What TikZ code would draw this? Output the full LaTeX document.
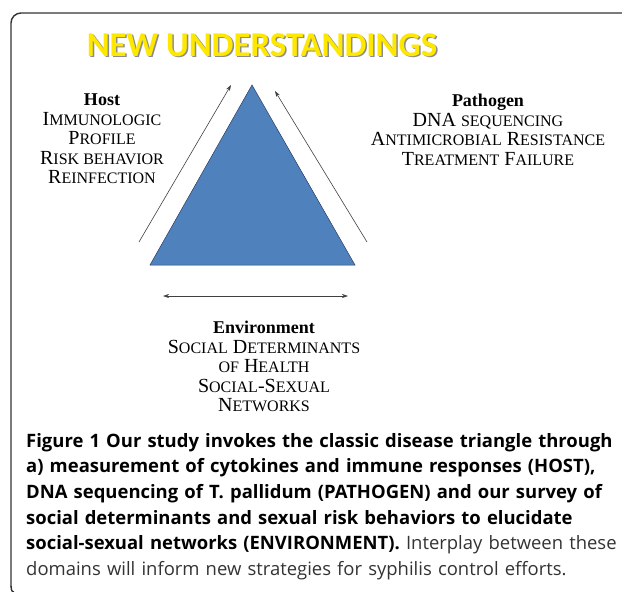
\documentclass[tikz,border=0pt]{standalone}
\usepackage{fontspec}
\setmainfont{Liberation Serif}
\newfontfamily\capfont{Open Sans}
\newfontfamily\titlefont{Carlito}
\usetikzlibrary{arrows.meta}
\definecolor{triblue}{RGB}{79,129,189}
\definecolor{trinavy}{RGB}{40,60,100}
\definecolor{titleyellow}{RGB}{255,232,0}
\definecolor{framegray}{RGB}{50,50,50}
\newcommand\SC[1]{{\fontsize{16}{19.5}\selectfont #1}}
\tikzset{
  x=1pt, y=-1pt,
  frameline/.style={draw=framegray, line width=1.4pt},
  tri/.style={fill=triblue, draw=trinavy, line width=0.5pt},
  arr/.style={draw=black!75, line width=0.6pt, -{Stealth[length=6pt,width=4pt]}},
  darr/.style={draw=black!75, line width=0.6pt, {Stealth[length=6pt,width=4pt]}-{Stealth[length=6pt,width=4pt]}},
  block/.style={align=center, inner sep=0pt, font=\fontsize{20}{19.5}\selectfont},
  captionbox/.style={align=left, anchor=north west, inner sep=0pt, text width=600pt,
    font=\capfont\fontsize{18.45}{25.6}\selectfont},
}
\begin{document}
\begin{tikzpicture}
\useasboundingbox (0,0) rectangle (622,592);
% frame
\draw[frameline, rounded corners=10pt] (11,587) -- (11,13) -- (623,13);
\draw[frameline] (11,586) to[out=-90,in=180] (14,592);
% title
\node[font=\titlefont\bfseries\fontsize{34.8}{35}\selectfont, text=black!45, inner sep=0pt] at (263.5,46.5) {NEW UNDERSTANDINGS};
\node[font=\titlefont\bfseries\fontsize{34.8}{35}\selectfont, text=titleyellow, inner sep=0pt] (title) at (262,45) {NEW UNDERSTANDINGS};
% triangle
\coordinate (apex) at (252,85);
\coordinate (bl) at (150,265);
\coordinate (br) at (355,265);
\path[tri] (apex) -- (br) -- (bl) -- cycle;
% arrows
\coordinate (la0) at (139,242); \coordinate (la1) at (231,85);
\coordinate (ra0) at (367,242); \coordinate (ra1) at (275,91);
\coordinate (ha0) at (163,296); \coordinate (ha1) at (348,296);
\draw[arr] (la0) -- (la1);
\draw[arr] (ra0) -- (ra1);
\draw[darr] (ha0) -- (ha1);
% host
\node[block, anchor=north] (host) at (102,94) {{\bfseries\fontsize{18}{19.5}\selectfont Host}\\
I\SC{MMUNOLOGIC}\\ P\SC{ROFILE}\\ R\SC{ISK BEHAVIOR}\\ R\SC{EINFECTION}};
% pathogen
\node[block, anchor=north] (path) at (488,94) {{\bfseries\fontsize{18}{19.5}\selectfont Pathogen}\\
DNA \SC{SEQUENCING}\\ A\SC{NTIMICROBIAL} R\SC{ESISTANCE}\\ T\SC{REATMENT} F\SC{AILURE}};
% environment
\node[block, anchor=north] (env) at (264,321) {{\bfseries\fontsize{18}{19.5}\selectfont Environment}\\
S\SC{OCIAL} D\SC{ETERMINANTS}\\ \SC{OF} H\SC{EALTH}\\ S\SC{OCIAL}-S\SC{EXUAL}\\ N\SC{ETWORKS}};
% caption
\node[captionbox] (caption) at (26,433) {\bfseries Figure 1 Our study invokes the classic disease triangle through\\
a) measurement of cytokines and immune responses (HOST),\\
DNA sequencing of T. pallidum (PATHOGEN) and our survey of\\
social determinants and sexual risk behaviors to elucidate\\
social-sexual networks (ENVIRONMENT). {\mdseries\color{black!80} Interplay between these}\\
{\mdseries\color{black!80} domains will inform new strategies for syphilis control efforts.}};
\end{tikzpicture}
\end{document}
